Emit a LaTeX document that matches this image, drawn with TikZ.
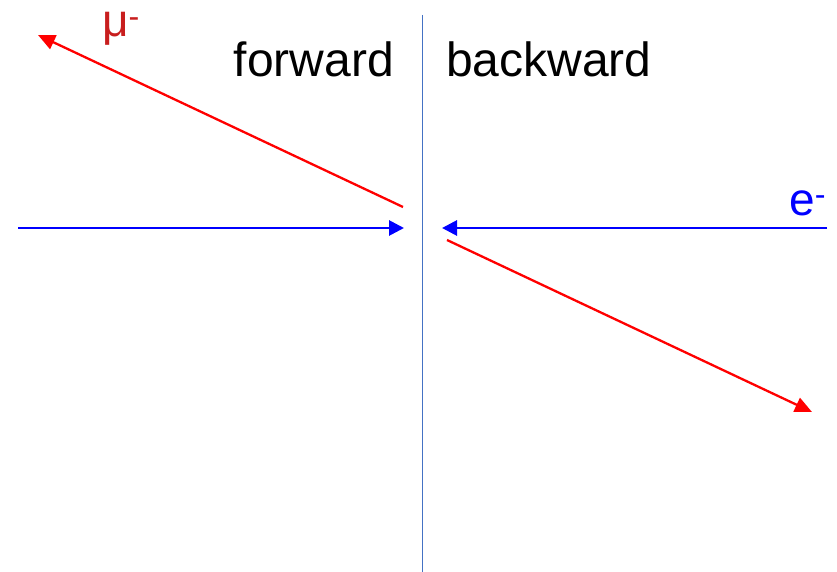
\documentclass[tikz,border=0pt]{standalone}
\usepackage{fontspec}
\setmainfont{Liberation Sans}
\usetikzlibrary{arrows.meta}
\definecolor{axisblue}{RGB}{68,114,196}
\definecolor{mured}{RGB}{200,30,30}
\begin{document}
\begin{tikzpicture}[x=1pt,y=-1pt,
  beam/.style={blue,line width=2.8pt,-{Triangle[length=15pt,width=15pt]}},
  muon/.style={red,line width=2.3pt,-{Triangle[length=17pt,width=15pt]}},
  lbl/.style={inner sep=0pt,font=\fontsize{48}{57}\selectfont}]
\useasboundingbox (0,0) rectangle (837,572);
\coordinate (top) at (422.5,15);
\coordinate (bot) at (422.5,572);
\draw[axisblue,line width=1.1pt] (top) -- (bot);
\coordinate (eL0) at (18,228);
\coordinate (eL1) at (404,228);
\coordinate (eR0) at (827,228);
\coordinate (eR1) at (442,228);
\draw[beam] (eL0) -- (eL1);
\draw[beam] (eR0) -- (eR1);
\coordinate (mU0) at (403,207);
\coordinate (mU1) at (38,35);
\coordinate (mD0) at (447,240);
\coordinate (mD1) at (812,412);
\draw[muon] (mU0) -- (mU1);
\draw[muon] (mD0) -- (mD1);
\node[lbl,anchor=base east] (fw) at (394,77) {forward};
\node[lbl,anchor=base west] (bw) at (446,77) {backward};
\node[lbl,anchor=base west,text=mured,font=\fontsize{46}{55}\selectfont] (mu) at (102,37) {μ\textsuperscript{-}};
\node[lbl,anchor=base west,text=blue,font=\fontsize{46}{55}\selectfont] (el) at (789,215) {e\textsuperscript{-}};
\end{tikzpicture}
\end{document}
